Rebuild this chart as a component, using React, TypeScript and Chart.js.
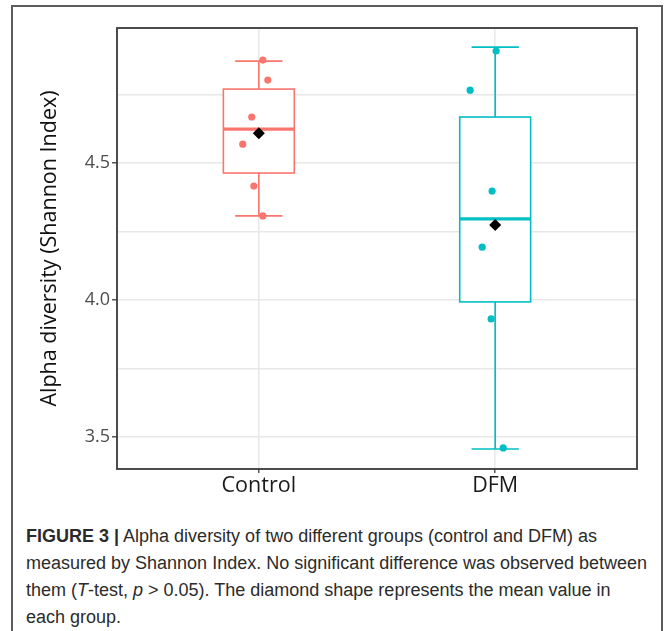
import React, { useEffect, useRef } from 'react';
import { Chart, registerables } from 'chart.js';

Chart.register(...registerables);

const categories = ['Control', 'DFM'];
const groupColors = ['#F8766D', '#00BFC4'];

// individual samples (jittered in the figure)
const controlValues = [4.876, 4.803, 4.668, 4.569, 4.416, 4.307];
const controlJitter = [0.017, 0.038, -0.03, -0.068, -0.021, 0.017];
const dfmValues = [4.909, 4.766, 4.398, 4.193, 3.931, 3.46];
const dfmJitter = [0.004, -0.106, -0.013, -0.055, -0.017, 0.034];

// box statistics per group
const whiskerLow = [4.307, 3.456];
const q1 = [4.4635, 3.993];
const medians = [4.624, 4.296];
const q3 = [4.77, 4.668];
const whiskerHigh = [4.872, 4.923];
const means = [4.609, 4.274];

const yMajorTicks = [3.5, 4.0, 4.5];
const yMinorTicks = [3.75, 4.25, 4.75];
const yMin = 3.383;
const yMax = 4.993;

const yTitle = 'Alpha diversity (Shannon Index)';

const BOX_HALF = 0.15;
const CAP_HALF = 0.1;

const boxPlugin = {
  id: 'ggBoxes',
  beforeDatasetsDraw(chart: any) {
    const { ctx } = chart;
    const x = chart.scales.x;
    const y = chart.scales.y;
    ctx.save();
    categories.forEach((_c, i) => {
      const pos = i + 1;
      const cx = x.getPixelForValue(pos);
      const bl = x.getPixelForValue(pos - BOX_HALF);
      const br = x.getPixelForValue(pos + BOX_HALF);
      const cl = x.getPixelForValue(pos - CAP_HALF);
      const cr = x.getPixelForValue(pos + CAP_HALF);
      const yLow = y.getPixelForValue(whiskerLow[i]);
      const yQ1 = y.getPixelForValue(q1[i]);
      const yMed = y.getPixelForValue(medians[i]);
      const yQ3 = y.getPixelForValue(q3[i]);
      const yHigh = y.getPixelForValue(whiskerHigh[i]);
      ctx.strokeStyle = groupColors[i];
      ctx.lineWidth = 1.6;
      // whiskers
      ctx.beginPath();
      ctx.moveTo(cx, yHigh);
      ctx.lineTo(cx, yQ3);
      ctx.moveTo(cx, yQ1);
      ctx.lineTo(cx, yLow);
      ctx.moveTo(cl, yHigh);
      ctx.lineTo(cr, yHigh);
      ctx.moveTo(cl, yLow);
      ctx.lineTo(cr, yLow);
      ctx.stroke();
      // box
      ctx.fillStyle = '#ffffff';
      ctx.fillRect(bl, yQ3, br - bl, yQ1 - yQ3);
      ctx.strokeRect(bl, yQ3, br - bl, yQ1 - yQ3);
      // median
      ctx.lineWidth = 3.2;
      ctx.beginPath();
      ctx.moveTo(bl, yMed);
      ctx.lineTo(br, yMed);
      ctx.stroke();
    });
    ctx.restore();
  },
  afterDraw(chart: any) {
    const { ctx, chartArea } = chart;
    ctx.save();
    ctx.strokeStyle = '#3a3a3a';
    ctx.lineWidth = 1.8;
    ctx.strokeRect(chartArea.left, chartArea.top, chartArea.right - chartArea.left, chartArea.bottom - chartArea.top);
    ctx.restore();
  },
};

export default function App() {
  const canvasRef = useRef<HTMLCanvasElement | null>(null);

  useEffect(() => {
    const canvas = canvasRef.current;
    if (!canvas) return;
    const allY = [...yMinorTicks, ...yMajorTicks].sort((a, b) => a - b);
    const chart = new Chart(canvas, {
      type: 'scatter',
      data: {
        datasets: [
          {
            label: categories[0],
            data: controlValues.map((v, k) => ({ x: 1 + controlJitter[k], y: v })),
            backgroundColor: groupColors[0],
            borderColor: groupColors[0],
            pointRadius: 3.6,
            borderWidth: 0,
          },
          {
            label: categories[1],
            data: dfmValues.map((v, k) => ({ x: 2 + dfmJitter[k], y: v })),
            backgroundColor: groupColors[1],
            borderColor: groupColors[1],
            pointRadius: 3.6,
            borderWidth: 0,
          },
          {
            label: 'Mean',
            data: means.map((m, i) => ({ x: i + 1, y: m })),
            backgroundColor: '#000000',
            borderColor: '#000000',
            pointStyle: 'rectRot',
            pointRadius: 6,
            borderWidth: 0,
          },
        ],
      },
      options: {
        responsive: false,
        animation: false,
        layout: { padding: { left: 0, top: 28, right: 30, bottom: 0 } },
        plugins: { legend: { display: false }, tooltip: { enabled: false } },
        scales: {
          x: {
            type: 'linear',
            min: 0.4,
            max: 2.6,
            afterBuildTicks: (scale: any) => {
              scale.ticks = categories.map((_c, i) => ({ value: i + 1 }));
            },
            afterFit: (scale: any) => {
              scale.height = 31;
            },
            ticks: {
              autoSkip: false,
              maxRotation: 0,
              padding: 0,
              color: '#1a1a1a',
              font: { family: 'Open Sans', size: 21.5 },
              callback: (v: any) => categories[Math.round(Number(v)) - 1] ?? '',
            },
            grid: {
              color: '#e8e8e8',
              lineWidth: 1.5,
              tickColor: '#555555',
              tickLength: 4,
            },
            border: { display: false },
          },
          y: {
            type: 'linear',
            min: yMin,
            max: yMax,
            afterBuildTicks: (scale: any) => {
              scale.ticks = allY.map((v) => ({ value: v }));
            },
            afterFit: (scale: any) => {
              scale.width = 117;
            },
            ticks: {
              autoSkip: false,
              padding: 2,
              color: '#4d4d4d',
              font: { family: 'Open Sans', size: 18 },
              callback: (v: any) => (yMajorTicks.includes(Number(v)) ? Number(v).toFixed(1) : ''),
            },
            grid: {
              color: '#e8e8e8',
              lineWidth: 1.5,
              tickLength: 5,
              tickColor: (c: any) =>
                c.tick && yMajorTicks.includes(c.tick.value) ? '#555555' : 'rgba(0,0,0,0)',
            },
            border: { display: false },
            title: {
              display: true,
              text: yTitle,
              color: '#111111',
              font: { family: 'Open Sans', size: 21.5 },
              padding: { top: 37, bottom: 0 },
            },
          },
        },
      },
      plugins: [boxPlugin],
    });
    return () => chart.destroy();
  }, []);

  return (
    <div
      style={{
        position: 'fixed',
        left: 0,
        top: 0,
        width: 667,
        height: 631,
        overflow: 'hidden',
        background: '#ffffff',
      }}
    >
      <div
        style={{
          position: 'absolute',
          left: 11,
          top: 5,
          width: 652,
          height: 700,
          border: '2px solid #5c5c5c',
          boxSizing: 'border-box',
        }}
      />
      <canvas
        ref={canvasRef}
        width={667}
        height={500}
        style={{ position: 'absolute', left: 0, top: 0, width: 667, height: 500 }}
      />
      <div
        style={{
          position: 'absolute',
          left: 26,
          top: 523,
          whiteSpace: 'nowrap',
          fontFamily: '"Liberation Sans", Arial, sans-serif',
          fontSize: 18,
          lineHeight: '27px',
          color: '#2b2b2b',
        }}
      >
        <b>FIGURE 3 |</b> Alpha diversity of two different groups (control and DFM) as
        <br />
        measured by Shannon Index. No significant difference was observed between
        <br />
        them (<i>T</i>-test, <i>p</i> &gt; 0.05). The diamond shape represents the mean value in
        <br />
        each group.
      </div>
    </div>
  );
}
